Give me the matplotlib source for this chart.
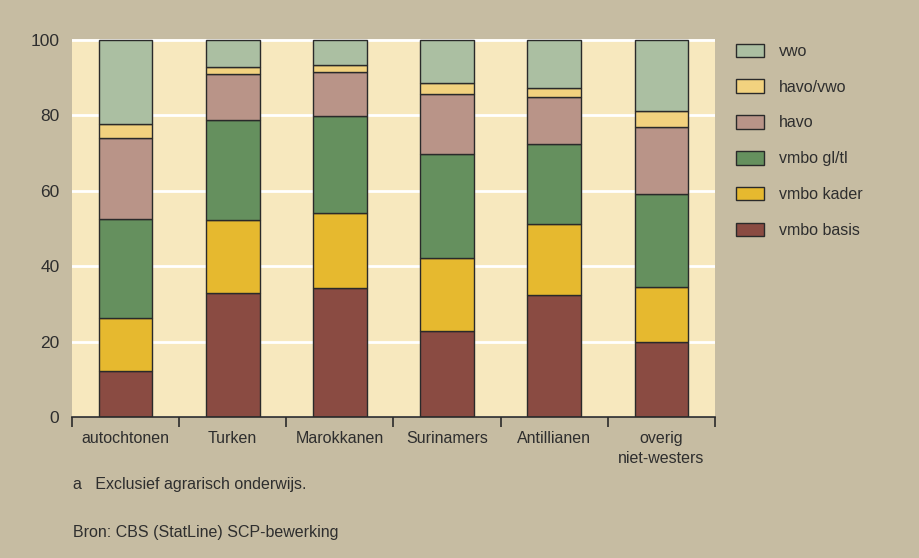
import numpy as np
import matplotlib
matplotlib.use("Agg")
import matplotlib.pyplot as plt

plt.rcParams['font.family'] = ['Liberation Sans', 'DejaVu Sans']

groups = ["autochtonen", "Turken", "Marokkanen", "Surinamers", "Antillianen", "overig\nniet-westers"]
levels = ["vmbo basis", "vmbo kader", "vmbo gl/tl", "havo", "havo/vwo", "vwo"]

vmbo_basis = [12.2, 32.8, 34.3, 22.8, 32.4, 19.9]
vmbo_kader = [14.1, 19.5, 19.7, 19.5, 18.9, 14.5]
vmbo_gltl = [26.1, 26.4, 25.8, 27.5, 21.2, 24.8]
havo = [21.5, 12.3, 11.6, 15.8, 12.4, 17.7]
havo_vwo = [3.8, 1.8, 2.1, 2.9, 2.4, 4.2]
vwo = [22.3, 7.2, 6.5, 11.5, 12.7, 18.9]

series = [vmbo_basis, vmbo_kader, vmbo_gltl, havo, havo_vwo, vwo]
colors = ["#8a4b42", "#e6b92f", "#65905e", "#b99488", "#f2d27f", "#abbfa2"]

bg = "#c6bca2"
panel = "#f7e8be"
txt = "#2e2e2e"

fig = plt.figure(figsize=(9.2, 5.58), dpi=100, facecolor=bg)
ax = fig.add_axes([72 / 920, 1 - 417 / 558, (715 - 72) / 920, (417 - 39) / 558])
ax.set_facecolor(panel)

x = np.arange(len(groups))
bottom = np.zeros(len(groups))
handles = []
for vals, col, lab in zip(series, colors, levels):
    b = ax.bar(x, vals, width=0.5, bottom=bottom, color=col, edgecolor="#2a2a2a",
               linewidth=1.0, label=lab, zorder=3)
    handles.append(b)
    bottom += np.array(vals)

ax.set_xlim(-0.5, len(groups) - 0.5)
ax.set_ylim(0, 100.27)
ax.set_yticks([0, 20, 40, 60, 80, 100])
ax.yaxis.grid(True, color="white", linewidth=2, zorder=1)
ax.set_axisbelow(True)

ax.set_xticks(x)
ax.set_xticklabels(groups, fontsize=11.5, color=txt, linespacing=1.4)
ax.set_xticks(np.arange(-0.5, len(groups)), minor=True)
ax.tick_params(axis="x", which="major", length=0, pad=10)
ax.tick_params(axis="x", which="minor", length=7, width=1.2, color="#2a2a2a", direction="out")
ax.tick_params(axis="y", length=0, labelsize=12.5, labelcolor=txt, pad=9)

for s in ["top", "right", "left"]:
    ax.spines[s].set_visible(False)
ax.spines["bottom"].set_color("#2a2a2a")
ax.spines["bottom"].set_linewidth(1.2)
ax.spines["bottom"].set_zorder(4)

leg = ax.legend(handles[::-1], levels[::-1], loc="upper left", bbox_to_anchor=(1.011, 1.026),
                frameon=False, fontsize=11.5, labelspacing=1.3, handlelength=1.75,
                handleheight=0.9, handletextpad=0.9, labelcolor=txt)

fig.text(73 / 920, 1 - 485 / 558, "a   Exclusief agrarisch onderwijs.", fontsize=11.5, color=txt, va="center")
fig.text(73 / 920, 1 - 532 / 558, "Bron: CBS (StatLine) SCP-bewerking", fontsize=11.5, color=txt, va="center")

fig.savefig("out.png", dpi=100, facecolor=bg)
